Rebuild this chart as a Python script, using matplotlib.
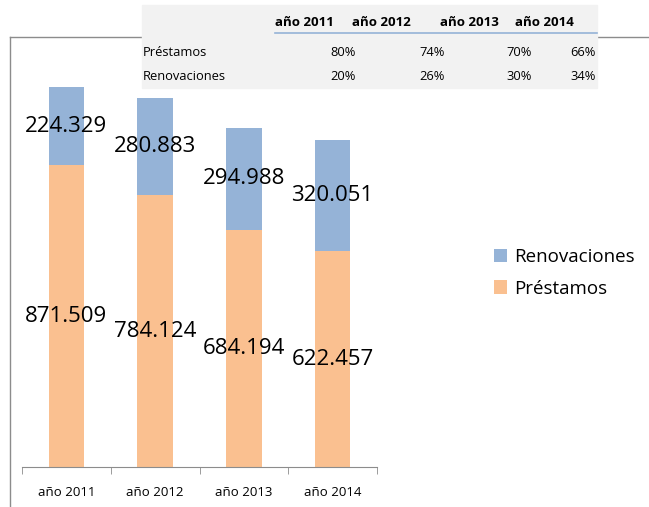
import matplotlib.pyplot as plt
from matplotlib.lines import Line2D
from matplotlib.patches import Rectangle

years = ["año 2011", "año 2012", "año 2013", "año 2014"]
prestamos = [871.509, 784.124, 684.194, 622.457]
renovaciones = [224.329, 280.883, 294.988, 320.051]
pct_prestamos = ["80%", "74%", "70%", "66%"]
pct_renovaciones = ["20%", "26%", "30%", "34%"]

plt.rcParams["font.family"] = ["Open Sans", "DejaVu Sans"]
W, H = 649, 507
fig = plt.figure(figsize=(W / 100, H / 100), dpi=100)

def fx(px):
    return px / W

def fy(py):
    return 1 - py / H

# outer chart frame (top and left edges)
fig.add_artist(Line2D([fx(10), fx(649)], [fy(37), fy(37)], color="#8c8c8c", lw=1))
fig.add_artist(Line2D([fx(10), fx(10)], [fy(37), fy(507)], color="#8c8c8c", lw=1))

ax = fig.add_axes([fx(22), fy(467), fx(377) - fx(22), fy(37) - fy(467)])
x = range(len(years))
ax.bar(x, prestamos, width=0.4, color="#FAC090", label="Préstamos")
ax.bar(x, renovaciones, width=0.4, bottom=prestamos, color="#95B3D7", label="Renovaciones")
ax.set_xlim(-0.5, 3.5)
ax.set_ylim(0, 430 / 0.3465)

for i in x:
    ax.text(i, prestamos[i] / 2, f"{prestamos[i]:.3f}", ha="center", va="center", fontsize=16)
    ax.text(i, prestamos[i] + renovaciones[i] / 2, f"{renovaciones[i]:.3f}",
            ha="center", va="center", fontsize=16)

for s in ["top", "right", "left"]:
    ax.spines[s].set_visible(False)
ax.spines["bottom"].set_color("#8c8c8c")
ax.set_yticks([])
ax.set_xticks(list(x))
ax.set_xticklabels(years, fontsize=9.5)
ax.set_xticks([-0.5, 0.5, 1.5, 2.5, 3.5], minor=True)
ax.tick_params(axis="x", which="major", length=0, pad=14)
ax.tick_params(axis="x", which="minor", length=5, color="#8c8c8c")

handles, labels = ax.get_legend_handles_labels()
fig.legend(handles[::-1], labels[::-1], loc="center left",
           bbox_to_anchor=(fx(477), fy(273)), frameon=False, fontsize=13.5,
           handlelength=0.7, handleheight=0.7, handletextpad=0.4, labelspacing=0.7)

# data table overlay
fig.add_artist(Rectangle((fx(142), fy(88)), fx(597) - fx(142), fy(5) - fy(88),
                         transform=fig.transFigure, color="#f2f2f2", zorder=5))
fig.add_artist(Line2D([fx(275), fx(597)], [fy(33), fy(33)], color="#95B3D7", lw=1.2, zorder=6))
col_right = [356, 445, 532, 596]
head_left = [275, 352, 440, 515]
for j in range(len(years)):
    fig.text(fx(head_left[j]), fy(23), years[j], ha="left", va="center",
             fontsize=9.5, fontweight="bold", zorder=7)
    fig.text(fx(col_right[j]), fy(52), pct_prestamos[j], ha="right", va="center", fontsize=9.3, zorder=7)
    fig.text(fx(col_right[j]), fy(77), pct_renovaciones[j], ha="right", va="center", fontsize=9.3, zorder=7)
fig.text(fx(143), fy(52), "Préstamos", ha="left", va="center", fontsize=9.3, zorder=7)
fig.text(fx(143), fy(77), "Renovaciones", ha="left", va="center", fontsize=9.3, zorder=7)

fig.savefig("out.png", dpi=100)
